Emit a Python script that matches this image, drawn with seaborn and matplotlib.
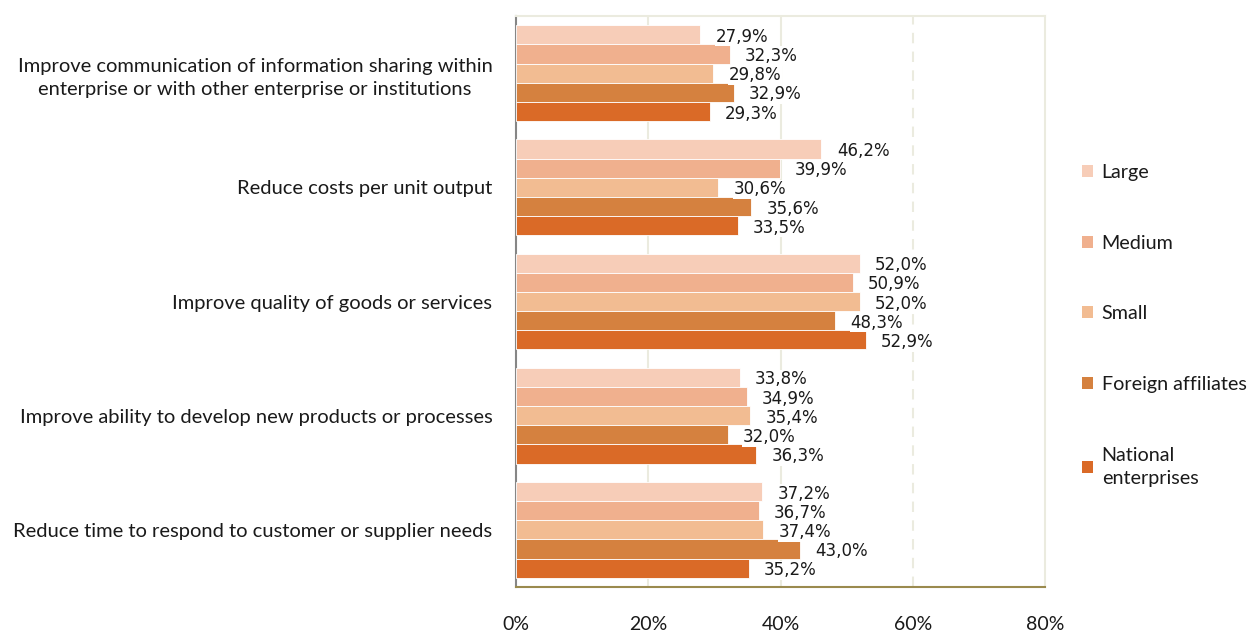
import matplotlib
matplotlib.use("Agg")
import matplotlib.pyplot as plt
import seaborn as sns
import pandas as pd
from matplotlib.patches import Patch

categories = [
    "Improve communication of information sharing within\nenterprise or with other enterprise or institutions",
    "Reduce costs per unit output",
    "Improve quality of goods or services",
    "Improve ability to develop new products or processes",
    "Reduce time to respond to customer or supplier needs",
]
series = ["Large", "Medium", "Small", "Foreign affiliates", "National\nenterprises"]
large = [27.9, 46.2, 52.0, 33.8, 37.2]
medium = [32.3, 39.9, 50.9, 34.9, 36.7]
small = [29.8, 30.6, 52.0, 35.4, 37.4]
foreign = [32.9, 35.6, 48.3, 32.0, 43.0]
national = [29.3, 33.5, 52.9, 36.3, 35.2]
xticks = [0, 20, 40, 60, 80]
xticklabels = ["0%", "20%", "40%", "60%", "80%"]

colors = ["#f7cdb8", "#f0b08e", "#f2bc92", "#d5813f", "#da6a27"]

rows = []
for s, vals in zip(series, [large, medium, small, foreign, national]):
    for c, v in zip(categories, vals):
        rows.append({"category": c, "series": s, "value": v})
df = pd.DataFrame(rows)

sns.set_style("white")
plt.rcParams["font.family"] = ["Lato", "DejaVu Sans"]

fig = plt.figure(figsize=(12.49, 6.35), dpi=100)
ax = fig.add_axes([516 / 1249, 1 - 587 / 635, (1045 - 516) / 1249, (587 - 16) / 635])

sns.barplot(data=df, y="category", x="value", hue="series", order=categories,
            hue_order=series, palette=colors, saturation=1, orient="h", width=0.84,
            edgecolor="white", linewidth=0.6, ax=ax, legend=False, zorder=3)

ax.set_xlim(0, 80)
ax.set_ylim(len(categories) - 0.5, -0.5)
ax.set_xticks(xticks)
ax.set_xticklabels(xticklabels, fontsize=14, color="#1a1a1a")
ax.set_xlabel("")
ax.set_ylabel("")

# gridlines
grid_c = "#ebebdf"
for x in [20, 40]:
    ax.axvline(x, color=grid_c, lw=1.5, zorder=1)
ax.axvline(60, color=grid_c, lw=1.5, ls=(0, (5, 4)), zorder=1)

# spines
for side in ["top", "right"]:
    ax.spines[side].set_color(grid_c)
    ax.spines[side].set_linewidth(1.5)
ax.spines["left"].set_color("#868686")
ax.spines["left"].set_linewidth(1.5)
ax.spines["bottom"].set_color("#9a8a4e")
ax.spines["bottom"].set_linewidth(1.5)

ax.tick_params(axis="x", direction="out", length=5, color="#9a8a4e", width=1.5, pad=16)
ax.set_yticks(range(len(categories)))
ax.set_yticklabels(categories, fontsize=14.5, color="#1a1a1a", multialignment="center",
                   linespacing=1.45)
ax.tick_params(axis="y", which="major", length=0, pad=17)
ax.set_yticks([i - 0.5 for i in range(len(categories) + 1)], minor=True)
ax.tick_params(axis="y", which="minor", length=6, color="#868686", width=1.5, direction="out")

# data labels
for container in ax.containers:
    for bar in container:
        w = bar.get_width()
        yc = bar.get_y() + bar.get_height() / 2
        ax.annotate(f"{w:.1f}%".replace(".", ","), xy=(w, yc), xytext=(11, -1.5),
                    textcoords="offset points", ha="left", va="center",
                    fontsize=12, family="DejaVu Sans", color="#1a1a1a",
                    bbox=dict(facecolor="white", edgecolor="none", pad=0.5), zorder=4)

handles = [Patch(facecolor=c, edgecolor="none") for c in colors]
leg = fig.legend(handles, series, loc="upper left", bbox_to_anchor=(1082 / 1249, 1 - 164 / 635),
                 frameon=False, fontsize=14.2, handlelength=0.55, handleheight=0.55,
                 handletextpad=0.45, labelspacing=2.72, borderpad=0, borderaxespad=0)
for t in leg.get_texts():
    t.set_linespacing(1.45)
    t.set_color("#1a1a1a")

fig.savefig("out.png", dpi=100)
